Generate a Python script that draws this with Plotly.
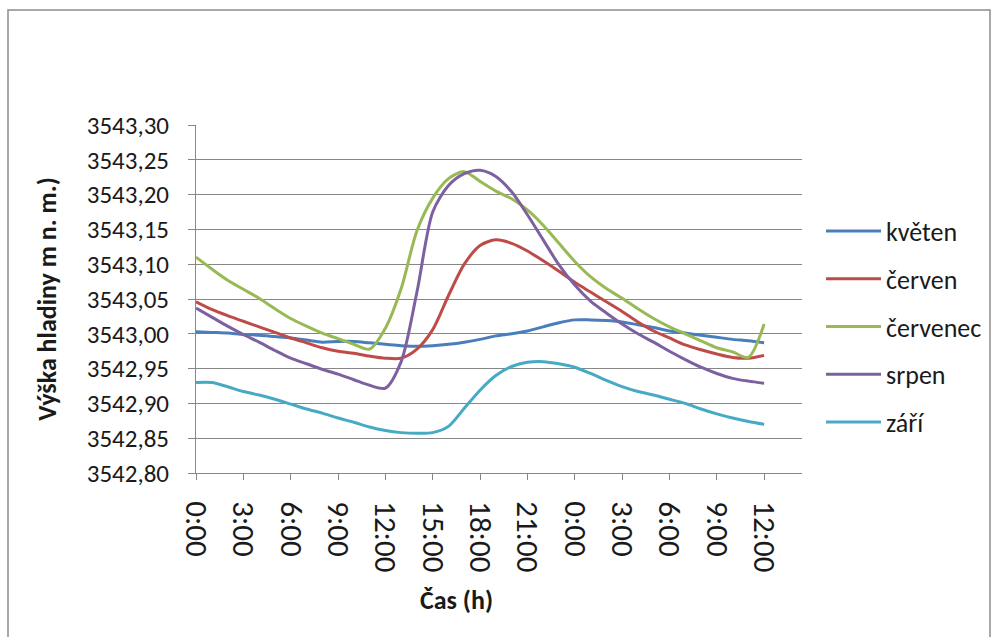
import plotly.graph_objects as go

# hours since start (0:00 day 1 .. 12:00 day 2)
hours = list(range(0, 37))

kveten = [3543.003, 3543.002, 3543.001, 3542.999, 3542.998, 3542.996, 3542.994, 3542.991, 3542.988, 3542.989,
          3542.989, 3542.987, 3542.985, 3542.983, 3542.982, 3542.983, 3542.985, 3542.988, 3542.992, 3542.997,
          3543.000, 3543.004, 3543.010, 3543.016, 3543.020, 3543.020, 3543.019, 3543.017, 3543.013, 3543.009,
          3543.004, 3543.001, 3542.998, 3542.995, 3542.992, 3542.990, 3542.987]
cerven = [3543.046, 3543.035, 3543.026, 3543.018, 3543.010, 3543.002, 3542.994, 3542.987, 3542.980, 3542.975,
          3542.972, 3542.968, 3542.965, 3542.965, 3542.978, 3543.006, 3543.055, 3543.100, 3543.127, 3543.135,
          3543.130, 3543.119, 3543.105, 3543.090, 3543.074, 3543.060, 3543.046, 3543.032, 3543.017, 3543.004,
          3542.994, 3542.984, 3542.977, 3542.971, 3542.966, 3542.965, 3542.969]
cervenec = [3543.110, 3543.093, 3543.077, 3543.064, 3543.051, 3543.036, 3543.022, 3543.011, 3543.001, 3542.993,
            3542.985, 3542.978, 3543.008, 3543.065, 3543.148, 3543.195, 3543.223, 3543.233, 3543.219, 3543.205,
            3543.194, 3543.178, 3543.156, 3543.130, 3543.104, 3543.082, 3543.065, 3543.051, 3543.036, 3543.022,
            3543.010, 3543.000, 3542.990, 3542.980, 3542.974, 3542.966, 3543.014]
srpen = [3543.037, 3543.024, 3543.011, 3542.999, 3542.988, 3542.976, 3542.965, 3542.957, 3542.949, 3542.942,
         3542.934, 3542.926, 3542.922, 3542.960, 3543.060, 3543.175, 3543.213, 3543.230, 3543.235, 3543.226,
         3543.204, 3543.171, 3543.135, 3543.099, 3543.070, 3543.047, 3543.030, 3543.014, 3543.000, 3542.988,
         3542.975, 3542.963, 3542.952, 3542.943, 3542.936, 3542.932, 3542.929]
zari = [3542.930, 3542.930, 3542.924, 3542.917, 3542.912, 3542.906, 3542.899, 3542.892, 3542.886, 3542.879,
        3542.873, 3542.866, 3542.861, 3542.858, 3542.857, 3542.858, 3542.867, 3542.893, 3542.919, 3542.940,
        3542.953, 3542.959, 3542.960, 3542.957, 3542.952, 3542.943, 3542.933, 3542.924, 3542.917, 3542.912,
        3542.906, 3542.900, 3542.892, 3542.885, 3542.879, 3542.874, 3542.870]

series_names = ["květen", "červen", "červenec", "srpen", "září"]
series_values = [kveten, cerven, cervenec, srpen, zari]
series_colors = ["#4A7EBB", "#BE4B48", "#98B954", "#7D60A0", "#46AAC5"]

x_tick_vals = [0, 3, 6, 9, 12, 15, 18, 21, 24, 27, 30, 33, 36]
x_tick_text = ["0:00", "3:00", "6:00", "9:00", "12:00", "15:00", "18:00", "21:00",
               "0:00", "3:00", "6:00", "9:00", "12:00"]
y_tick_vals = [3542.80, 3542.85, 3542.90, 3542.95, 3543.00, 3543.05, 3543.10, 3543.15, 3543.20, 3543.25, 3543.30]
y_tick_text = ["3542,80", "3542,85", "3542,90", "3542,95", "3543,00", "3543,05",
               "3543,10", "3543,15", "3543,20", "3543,25", "3543,30"]

FONT = "Carlito, Open Sans, sans-serif"
GRAY = "#878787"

fig = go.Figure()
for i, (name, vals, col) in enumerate(zip(series_names, series_values, series_colors)):
    fig.add_trace(go.Scatter(
        x=hours, y=vals, name=name, mode="lines", legendgroup=name,
        line=dict(color=col, width=3, shape="spline", smoothing=0.8),
    ))

W, H = 997, 637
L, R, T, B = 196, 802, 125, 473

def px_x(p):
    return (p - L) / (R - L)

def px_y(p):
    return (B - p) / (B - T)

fig.update_layout(
    width=W, height=H,
    margin=dict(l=L, r=W - R, t=T, b=H - B, pad=0, autoexpand=False),
    paper_bgcolor="white", plot_bgcolor="white",
    font=dict(family=FONT, color="#1a1a1a", size=25),
    showlegend=True,
    legend=dict(x=px_x(821), y=px_y(327), xanchor="left", yanchor="middle",
                font=dict(size=26, family=FONT), tracegroupgap=11,
                itemwidth=55, bgcolor="rgba(0,0,0,0)"),
    xaxis=dict(range=[0, 38.4], tickmode="array", tickvals=x_tick_vals, ticktext=x_tick_text,
               tickangle=90, ticks="outside", ticklen=6, tickcolor=GRAY, tickwidth=1,
               showline=True, linecolor=GRAY, linewidth=1, showgrid=False, zeroline=False,
               tickfont=dict(size=31, family=FONT), ticklabelstandoff=15),
    yaxis=dict(range=[3542.80, 3543.30], tickmode="array", tickvals=y_tick_vals, ticktext=y_tick_text,
               ticks="outside", ticklen=7, tickcolor=GRAY, tickwidth=1,
               showline=True, linecolor=GRAY, linewidth=1, showgrid=True, gridcolor=GRAY, gridwidth=1,
               zeroline=False, tickfont=dict(size=25, family=FONT), ticklabelstandoff=14,
               title=dict(text="<b>Výška hladiny m n. m.)</b>", font=dict(size=26, family=FONT), standoff=22)),
    annotations=[dict(text="<b>Čas (h)</b>", xref="paper", yref="paper",
                      x=px_x(456), y=px_y(600), xanchor="center", yanchor="middle",
                      showarrow=False, font=dict(size=26, family=FONT))],
    shapes=[dict(type="rect", xref="paper", yref="paper",
                 x0=px_x(8), x1=px_x(990), y0=px_y(640), y1=px_y(10),
                 line=dict(color="#8c8c8c", width=1.5), fillcolor="rgba(0,0,0,0)", layer="below")],
)

fig.write_html("out.html")
